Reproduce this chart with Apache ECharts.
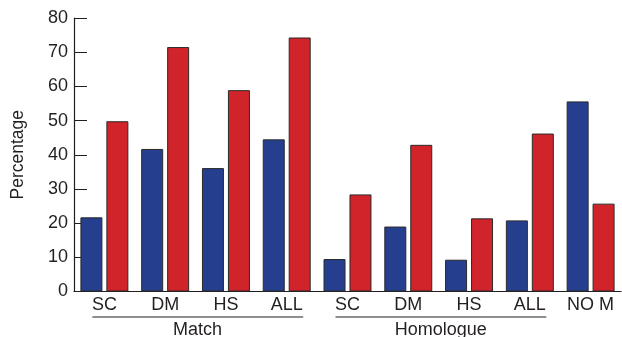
<!DOCTYPE html>
<html>
<head>
<meta charset="utf-8">
<script src="https://cdn.jsdelivr.net/npm/echarts@6/dist/echarts.min.js"></script>
<style>
html,body{margin:0;padding:0;background:#fff;}
#c{width:622px;height:337px;}
</style>
</head>
<body>
<div id="c"></div>
<script>
var categories = ['SC', 'DM', 'HS', 'ALL', 'SC', 'DM', 'HS', 'ALL', 'NO M'];
var blueValues = [21.7, 41.7, 36.1, 44.5, 9.5, 19.0, 9.3, 20.8, 55.6];
var redValues  = [49.8, 71.5, 58.9, 74.3, 28.4, 42.9, 21.4, 46.2, 25.7];
var yTicks = [0, 10, 20, 30, 40, 50, 60, 70, 80];
var groupNames = ['Match', 'Homologue'];
var groupSpans = [[0, 3], [4, 7]];

var FONT = 'Liberation Sans, Arial, sans-serif';
var TXT = '#231f20';
var chart = echarts.init(document.getElementById('c'), null, {renderer: 'canvas'});
chart.setOption({
  animation: false,
  grid: {left: 74, right: 1, top: 18, bottom: 45.5, containLabel: false},
  xAxis: {
    type: 'category',
    data: categories,
    boundaryGap: true,
    axisLine: {lineStyle: {color: '#231f20', width: 1.2}},
    axisTick: {inside: true, length: 5, interval: 0, lineStyle: {color: '#231f20', width: 1}},
    axisLabel: {interval: 0, margin: 5, fontSize: 18, fontFamily: FONT, color: TXT}
  },
  yAxis: {
    type: 'value',
    min: yTicks[0],
    max: yTicks[yTicks.length - 1],
    interval: yTicks[1] - yTicks[0],
    name: 'Percentage',
    nameLocation: 'middle',
    nameGap: 47,
    nameRotate: 90,
    nameTextStyle: {fontSize: 17.5, fontFamily: FONT, color: TXT},
    splitLine: {show: false},
    axisLine: {show: true, lineStyle: {color: '#231f20', width: 1.2}},
    axisTick: {show: true, inside: true, length: 13, lineStyle: {color: '#231f20', width: 1}},
    axisLabel: {margin: 6, fontSize: 18, fontFamily: FONT, color: TXT}
  },
  series: [
    {
      type: 'bar', data: blueValues, barWidth: 22, barGap: '18%',
      itemStyle: {color: '#253e8d', borderColor: '#2b2b2b', borderWidth: 1}
    },
    {
      type: 'bar', data: redValues, barWidth: 22, barGap: '18%',
      itemStyle: {color: '#d1232a', borderColor: '#2b2b2b', borderWidth: 1}
    }
  ]
});

function drawGroups() {
  var elements = [];
  var baseY = chart.convertToPixel({yAxisIndex: 0}, 0);
  groupSpans.forEach(function (span, i) {
    var x0 = chart.convertToPixel({xAxisIndex: 0}, span[0]);
    var x1 = chart.convertToPixel({xAxisIndex: 0}, span[1]);
    elements.push({
      type: 'line',
      shape: {x1: x0 - 12, y1: baseY + 25.5, x2: x1 + 16.5, y2: baseY + 25.5},
      style: {stroke: '#231f20', lineWidth: 1.2}
    });
    elements.push({
      type: 'text',
      x: (x0 + x1) / 2 + 2,
      y: baseY + 39,
      style: {text: groupNames[i], fontSize: 18, fontFamily: FONT, fill: TXT, align: 'center', verticalAlign: 'middle'}
    });
  });
  chart.setOption({graphic: {elements: elements}});
}
drawGroups();
</script>
</body>
</html>
